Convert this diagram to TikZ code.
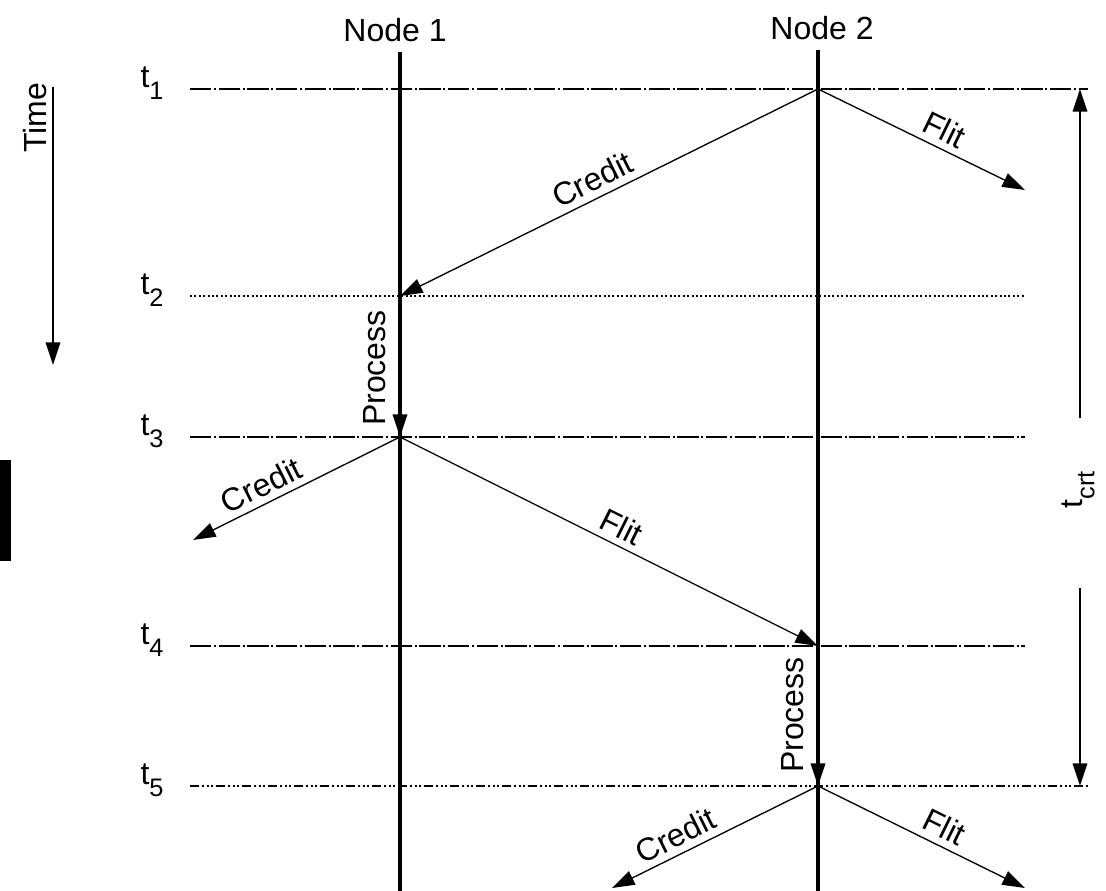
\documentclass[tikz,border=0pt]{standalone}
\usepackage{fontspec}
\setmainfont{Liberation Sans}
\usetikzlibrary{arrows.meta}
\newcommand{\subtxt}[1]{\raisebox{-0.38em}{\fontsize{19}{22}\selectfont #1}}
\tikzset{
  lbl/.style={font=\fontsize{24}{28}\selectfont, inner sep=1pt},
  msg/.style={line width=1pt, -{Triangle[length=17pt,width=11pt]}},
  life/.style={line width=3pt},
  tlA/.style={line width=1pt, dash pattern=on 16pt off 2pt on 1.5pt off 2pt},
  tlB/.style={line width=1pt, dash pattern=on 1.5pt off 1.8pt},
  tlC/.style={line width=1pt, dash pattern=on 7pt off 2pt on 1.5pt off 2pt on 1.5pt off 2pt on 1.5pt off 2pt},
}
\begin{document}
\begin{tikzpicture}[x=0.75pt,y=-0.75pt]
\path[use as bounding box] (0,0) rectangle (1106,891);
% artifact block
\fill[black] (0,460) rectangle (11,561);
% Time axis
\node[lbl, rotate=90] (time) at (35,118) {Time};
\coordinate (timetop) at (53,87);
\coordinate (timebot) at (53,365);
\draw[msg] (timetop) -- (timebot);
% lifelines
\node[lbl] (node1) at (395,30) {Node 1};
\node[lbl] (node2) at (822,28) {Node 2};
\coordinate (n1top) at (400,52);
\coordinate (n1bot) at (400,891);
\coordinate (n2top) at (818,50);
\coordinate (n2bot) at (818,891);
% time lines
\coordinate (h1l) at (190,89);  \coordinate (h1r) at (1088,89);
\coordinate (h2l) at (190,296); \coordinate (h2r) at (1025,296);
\coordinate (h3l) at (190,437); \coordinate (h3r) at (1025,437);
\coordinate (h4l) at (190,646); \coordinate (h4r) at (1025,646);
\coordinate (h5l) at (190,786); \coordinate (h5r) at (1088,786);
\draw[tlA] (h1l) -- (h1r);
\draw[tlB] (h2l) -- (h2r);
\draw[tlA] (h3l) -- (h3r);
\draw[tlA] (h4l) -- (h4r);
\draw[tlC] (h5l) -- (h5r);
\node[lbl] (t1) at (152,83) {t\subtxt{1}};
\node[lbl] (t2) at (152,290) {t\subtxt{2}};
\node[lbl] (t3) at (152,431) {t\subtxt{3}};
\node[lbl] (t4) at (152,640) {t\subtxt{4}};
\node[lbl] (t5) at (152,780) {t\subtxt{5}};
\draw[life] (n1top) -- (n1bot);
\draw[life] (n2top) -- (n2bot);
% events
\coordinate (a1) at (818,89);
\coordinate (b2) at (400,296);
\coordinate (b3) at (400,437);
\coordinate (a4) at (818,646);
\coordinate (a5) at (818,786);
\coordinate (f1end) at (1025,190);
\coordinate (c2end) at (193,540);
\coordinate (c3end) at (612,888);
\coordinate (f3end) at (1025,888);
\draw[msg] (a1) -- node[lbl, sloped, above=4pt, pos=0.52] (credit1) {Credit} (b2);
\draw[msg] (a1) -- node[lbl, sloped, above=4pt, pos=0.57] (flit1) {Flit} (f1end);
\draw[msg] (b2) -- (b3);
\node[lbl, rotate=90] (proc1) at (375,368) {Process};
\draw[msg] (b3) -- node[lbl, sloped, above=4pt, pos=0.63] (credit2) {Credit} (c2end);
\draw[msg] (b3) -- node[lbl, sloped, above=4pt, pos=0.51] (flit2) {Flit} (a4);
\draw[msg] (a4) -- (a5);
\node[lbl, rotate=90] (proc2) at (793,715) {Process};
\draw[msg] (a5) -- node[lbl, sloped, above=4pt, pos=0.65] (credit3) {Credit} (c3end);
\draw[msg] (a5) -- node[lbl, sloped, above=4pt, pos=0.57] (flit3) {Flit} (f3end);
% t_crt
\coordinate (crttop) at (1080,89);
\coordinate (crtbot) at (1080,786);
\node[lbl, rotate=90] (tcrt) at (1078,490) {t\subtxt{crt}};
\coordinate (crtu) at (1080,418);
\coordinate (crtd) at (1080,588);
\draw[msg] (crtu) -- (crttop);
\draw[msg] (crtd) -- (crtbot);
\end{tikzpicture}
\end{document}
